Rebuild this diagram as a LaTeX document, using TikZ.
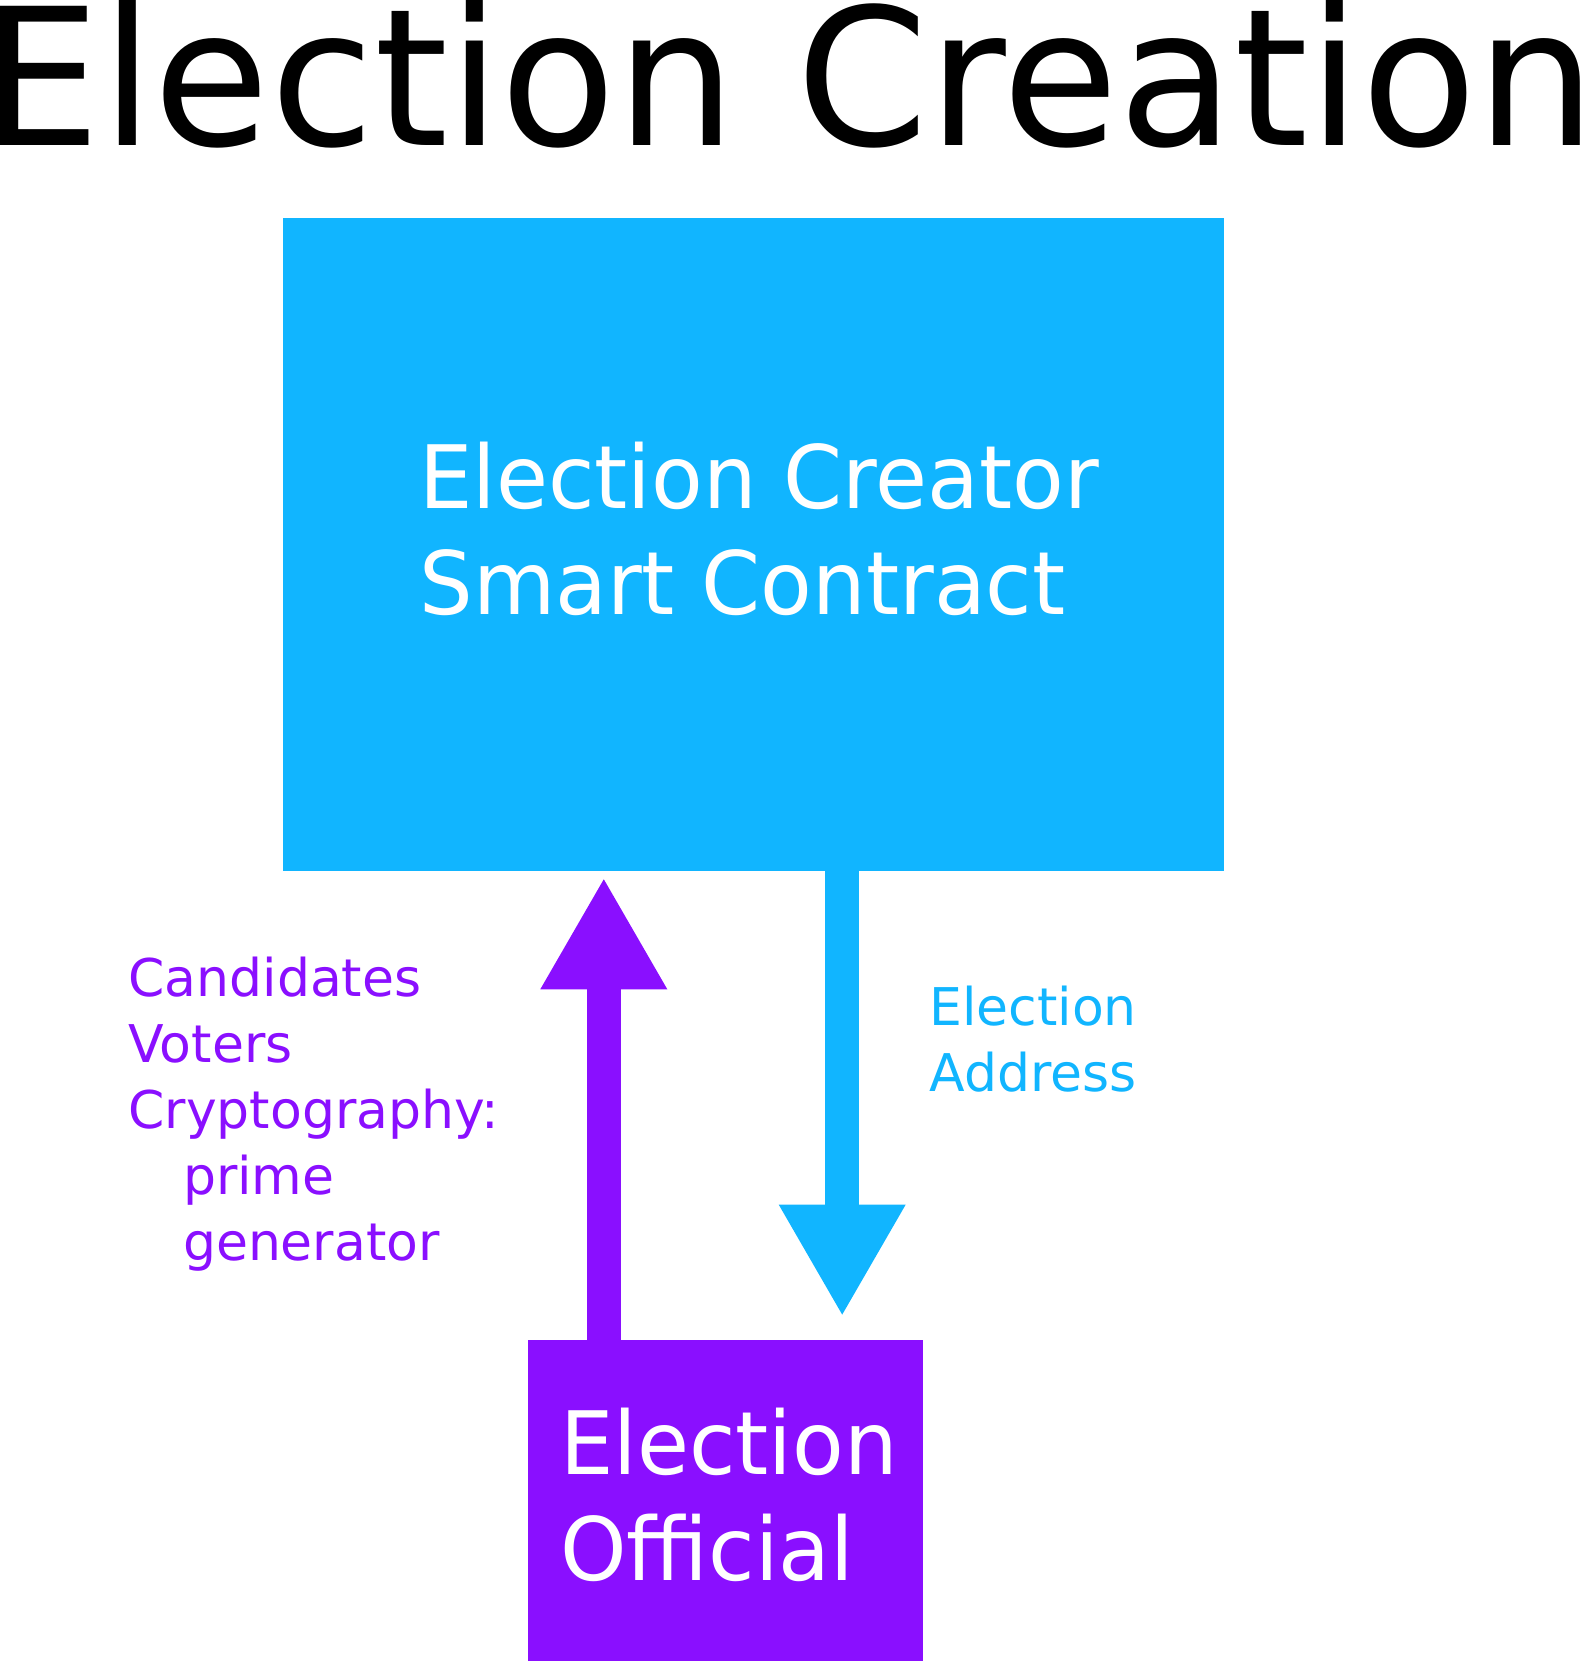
\documentclass[tikz,border=0pt]{standalone}
\usepackage{fontspec}
\setmainfont{DejaVu Sans}
\usepackage{tikz}
\usetikzlibrary{arrows.meta,positioning,calc}
\definecolor{contractblue}{RGB}{17,181,255}
\definecolor{officialpurple}{RGB}{138,15,255}
\tikzset{
    box/.style={rectangle, inner sep=0pt, outer sep=0pt},
    boxtext/.style={anchor=base west, inner sep=0pt, align=left, text=white, xscale=0.966, font=\fontsize{43.75}{53}\selectfont},
    sidetext/.style={anchor=base west, inner sep=0pt, align=left, font=\fontsize{26}{33}\selectfont},
    flow/.style={-{Triangle[width=63.5pt, length=55pt, line width=0pt]}, line width=17pt}
}
\begin{document}
\begin{tikzpicture}[x=0.5pt, y=-0.5pt]
                    \useasboundingbox (0,0) rectangle (1589,1661);
                    \node[anchor=base west, inner sep=0pt, xscale=0.99, font=\fontsize{95.5}{110}\selectfont] (title) at (-18.5,145) {Election Creation};
                    \node[box, fill=contractblue, minimum width=470.35pt, minimum height=326.25pt] (creator) at (753.2,544.5) {};
                    \node[box, fill=officialpurple, minimum width=197.6pt, minimum height=160.5pt] (official) at (725.1,1500.5) {};
                    % base anchor sits on the last line
                    \node[boxtext] (creatortext) at (419,614.5) {Election Creator\\Smart Contract};
                    \node[boxtext] (officialtext) at (560,1580) {Election\\Official};
                    \node[sidetext, text=officialpurple] (inputs) at (128,1260) {Candidates\\Voters\\Cryptography:\\\hspace*{27.3pt}prime\\\hspace*{27.3pt}generator};
                    \node[sidetext, text=contractblue] (address) at (929,1091) {Election\\Address};
                    \coordinate (upx) at (603.8,0);
                    \coordinate (downx) at (842.2,0);
                    \draw[flow, officialpurple] (official.north -| upx) -- ([yshift=-4.25pt]creator.south -| upx);
                    \draw[flow, contractblue] (creator.south -| downx) -- ([yshift=12.7pt]official.north -| downx);
                \end{tikzpicture}
\end{document}
